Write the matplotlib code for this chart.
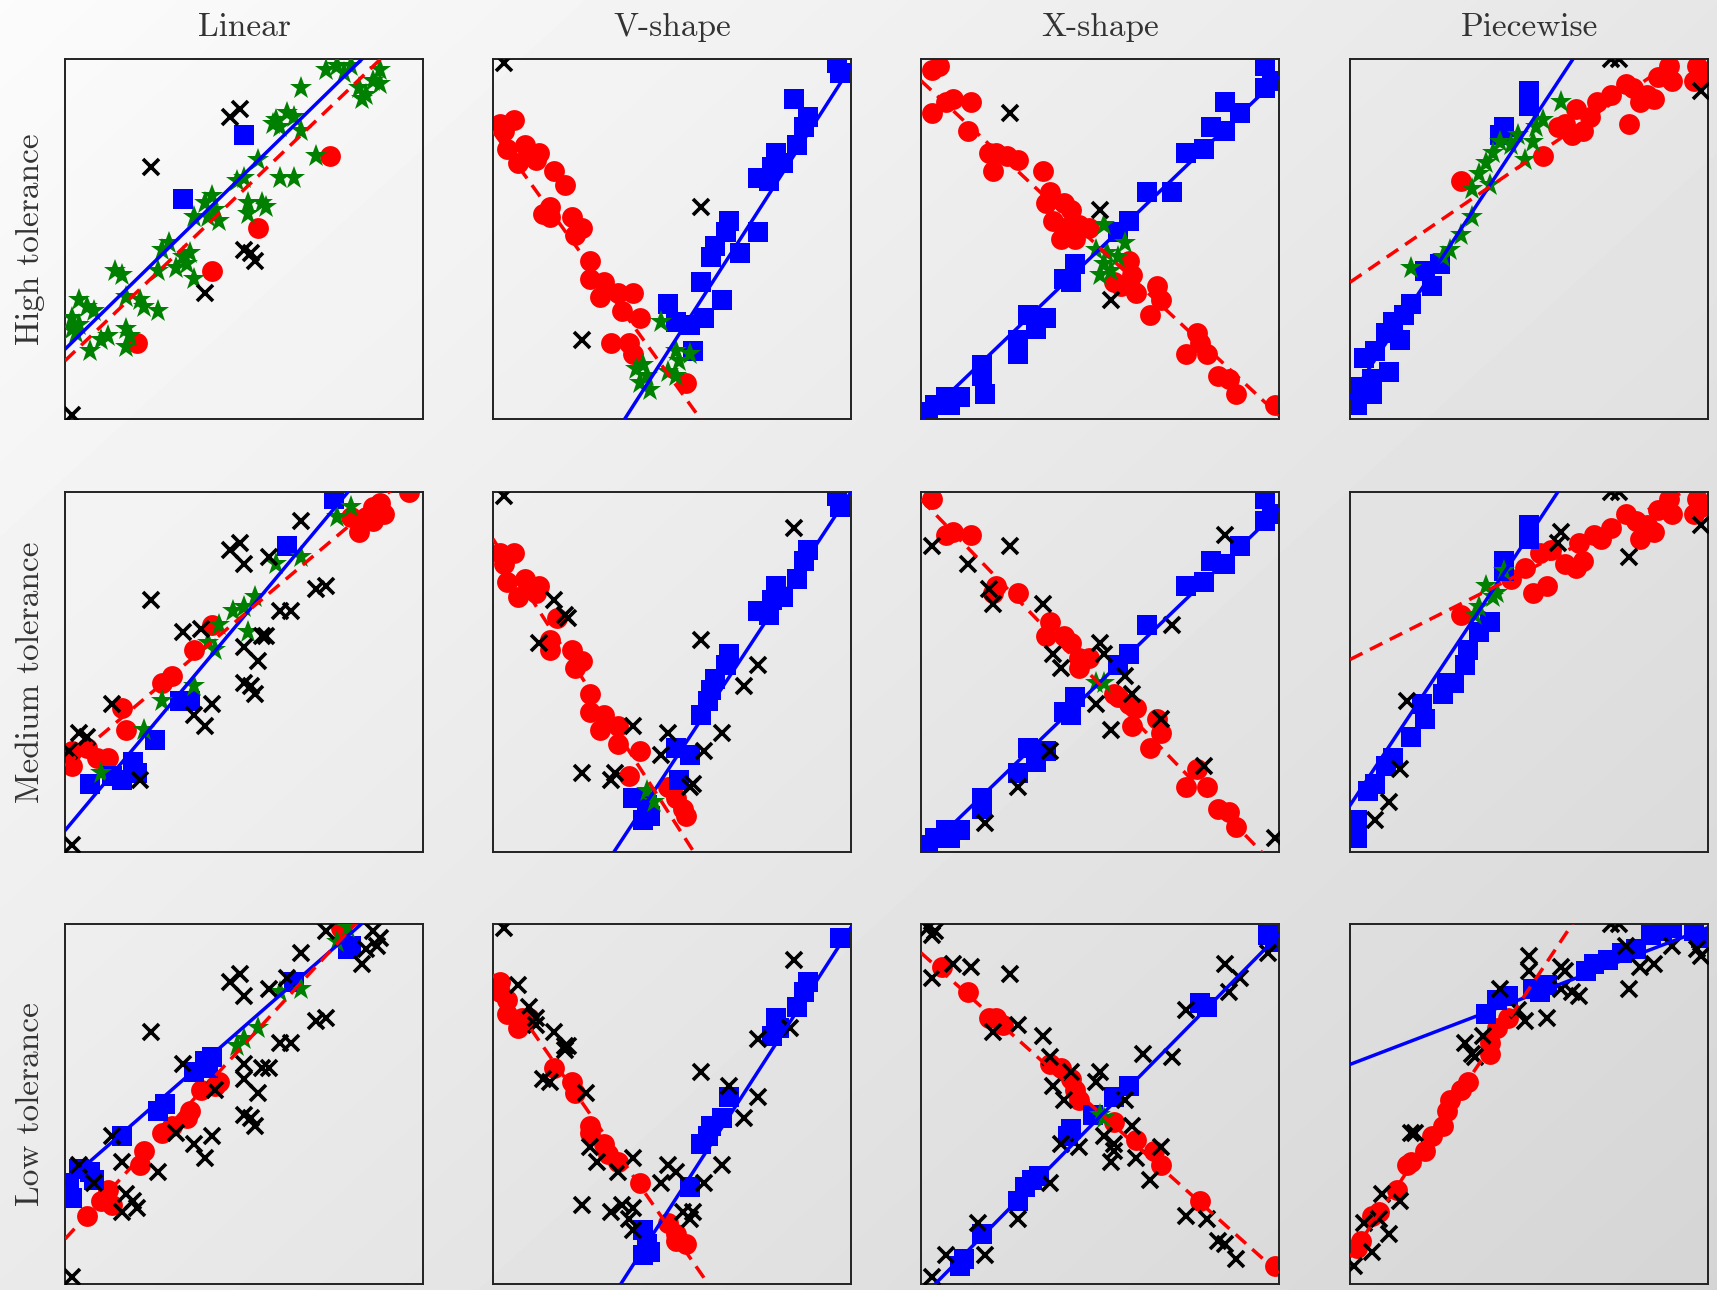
import numpy as np
import matplotlib.pyplot as plt

plt.rcParams['font.family'] = 'cmr10'
plt.rcParams['axes.formatter.use_mathtext'] = True

columns = ["Linear", "V-shape", "X-shape", "Piecewise"]
rows = ["High tolerance", "Medium tolerance", "Low tolerance"]

# Points are (x, y) in the unit square.
# red = first model, blue = second model, both = fits both, none = outlier.
# Fits are (slope, intercept) for the blue solid and red dashed models.

# ---- Linear ----
lin_hi_red = [(0.74, 0.73), (0.54, 0.53), (0.41, 0.41), (0.20, 0.21)]
lin_hi_blue = [(0.50, 0.79), (0.33, 0.61)]
lin_hi_both = [(0.73, 0.97), (0.76, 0.98), (0.78, 0.96), (0.80, 0.98), (0.88, 0.97), (0.86, 0.94),
               (0.88, 0.93), (0.82, 0.92), (0.84, 0.90), (0.83, 0.89), (0.66, 0.92), (0.62, 0.85),
               (0.59, 0.83), (0.64, 0.84), (0.58, 0.82), (0.60, 0.81), (0.66, 0.80), (0.54, 0.72),
               (0.50, 0.67), (0.48, 0.66), (0.60, 0.67), (0.64, 0.67), (0.70, 0.73), (0.51, 0.60),
               (0.55, 0.60), (0.56, 0.59), (0.41, 0.62), (0.39, 0.60), (0.42, 0.58), (0.40, 0.56),
               (0.36, 0.56), (0.43, 0.55), (0.51, 0.57), (0.27, 0.47), (0.29, 0.49), (0.33, 0.45),
               (0.35, 0.46), (0.31, 0.42), (0.34, 0.43), (0.36, 0.39), (0.26, 0.41), (0.14, 0.41),
               (0.16, 0.40), (0.17, 0.34), (0.21, 0.33), (0.22, 0.31), (0.26, 0.30), (0.04, 0.33),
               (0.06, 0.31), (0.08, 0.30), (0.02, 0.28), (0.02, 0.25), (0.04, 0.26), (0.10, 0.22),
               (0.12, 0.23), (0.17, 0.25), (0.18, 0.23), (0.17, 0.20), (0.07, 0.19), (0.03, 0.24)]
lin_hi_none = [(0.24, 0.70), (0.46, 0.84), (0.49, 0.86), (0.50, 0.47), (0.52, 0.46), (0.53, 0.44),
               (0.39, 0.35), (0.02, 0.01)]
lin_hi_fit = [(0.972, 0.194), (0.951, 0.162)]

lin_md_red = [(0.96, 1.00), (0.88, 0.97), (0.89, 0.94), (0.86, 0.96), (0.84, 0.93), (0.80, 0.93),
              (0.82, 0.89), (0.86, 0.92), (0.41, 0.63), (0.36, 0.56), (0.27, 0.47), (0.30, 0.49),
              (0.16, 0.40), (0.17, 0.34), (0.02, 0.28), (0.02, 0.24), (0.06, 0.29), (0.09, 0.26),
              (0.12, 0.26)]
lin_md_blue = [(0.75, 0.98), (0.62, 0.85), (0.32, 0.42), (0.35, 0.42), (0.25, 0.31), (0.19, 0.25),
               (0.20, 0.22), (0.16, 0.20), (0.07, 0.19), (0.13, 0.21)]
lin_md_both = [(0.76, 0.93), (0.80, 0.96), (0.66, 0.82), (0.59, 0.80), (0.53, 0.71), (0.50, 0.68),
               (0.47, 0.67), (0.51, 0.61), (0.43, 0.63), (0.42, 0.56), (0.40, 0.58), (0.36, 0.46),
               (0.27, 0.42), (0.22, 0.34), (0.10, 0.22)]
lin_md_none = [(0.66, 0.92), (0.46, 0.84), (0.49, 0.86), (0.50, 0.80), (0.57, 0.82), (0.24, 0.70),
               (0.70, 0.73), (0.73, 0.74), (0.60, 0.67), (0.63, 0.67), (0.33, 0.61), (0.38, 0.62),
               (0.50, 0.57), (0.55, 0.60), (0.56, 0.60), (0.54, 0.53), (0.50, 0.47), (0.52, 0.46),
               (0.53, 0.44), (0.41, 0.41), (0.36, 0.38), (0.39, 0.35), (0.13, 0.41), (0.04, 0.33),
               (0.06, 0.32), (0.01, 0.28), (0.21, 0.20), (0.02, 0.02)]
lin_md_fit = [(1.19, 0.06), (0.84, 0.24)]

lin_lo_red = [(0.06, 0.19), (0.10, 0.23), (0.12, 0.26), (0.13, 0.22), (0.22, 0.37), (0.21, 0.33),
              (0.27, 0.42), (0.30, 0.44), (0.34, 0.46), (0.35, 0.48), (0.38, 0.54), (0.43, 0.56),
              (0.42, 0.55), (0.77, 0.99)]
lin_lo_blue = [(0.01, 0.28), (0.02, 0.24), (0.04, 0.32), (0.07, 0.31), (0.08, 0.29), (0.16, 0.41),
               (0.26, 0.48), (0.28, 0.50), (0.36, 0.59), (0.39, 0.62), (0.41, 0.63), (0.40, 0.60),
               (0.64, 0.84), (0.79, 0.93), (0.80, 0.94)]
lin_lo_both = [(0.66, 0.82), (0.60, 0.81), (0.54, 0.71), (0.50, 0.68), (0.48, 0.66), (0.76, 0.95),
               (0.79, 0.99)]
lin_lo_none = [(0.66, 0.92), (0.46, 0.84), (0.49, 0.86), (0.50, 0.80), (0.57, 0.82), (0.62, 0.85),
               (0.73, 0.98), (0.86, 0.98), (0.88, 0.96), (0.87, 0.94), (0.84, 0.93), (0.83, 0.89),
               (0.24, 0.70), (0.70, 0.73), (0.73, 0.74), (0.60, 0.67), (0.63, 0.67), (0.33, 0.61),
               (0.50, 0.61), (0.50, 0.57), (0.55, 0.60), (0.57, 0.60), (0.54, 0.53), (0.50, 0.47),
               (0.52, 0.46), (0.53, 0.44), (0.41, 0.41), (0.31, 0.42), (0.36, 0.39), (0.39, 0.35),
               (0.13, 0.41), (0.16, 0.34), (0.26, 0.31), (0.04, 0.33), (0.08, 0.28), (0.17, 0.25),
               (0.19, 0.23), (0.16, 0.20), (0.20, 0.21), (0.02, 0.02), (0.42, 0.54)]
lin_lo_fit = [(0.87, 0.28), (1.08, 0.125)]

# ---- V-shape ----
v_hi_red = [(0.02, 0.82), (0.06, 0.83), (0.03, 0.80), (0.04, 0.75), (0.09, 0.76), (0.10, 0.74),
            (0.13, 0.74), (0.07, 0.71), (0.12, 0.72), (0.17, 0.69), (0.20, 0.65), (0.14, 0.57),
            (0.16, 0.59), (0.16, 0.56), (0.22, 0.56), (0.25, 0.53), (0.23, 0.51), (0.27, 0.44),
            (0.27, 0.39), (0.31, 0.38), (0.30, 0.34), (0.35, 0.35), (0.39, 0.35), (0.36, 0.30),
            (0.41, 0.28), (0.33, 0.21), (0.38, 0.21), (0.39, 0.18), (0.54, 0.10)]
v_hi_blue = [(0.97, 0.96), (0.96, 0.99), (0.84, 0.89), (0.88, 0.84), (0.87, 0.81), (0.85, 0.76),
             (0.79, 0.74), (0.81, 0.71), (0.78, 0.70), (0.74, 0.67), (0.77, 0.66), (0.66, 0.55),
             (0.65, 0.52), (0.74, 0.52), (0.62, 0.48), (0.69, 0.46), (0.61, 0.45), (0.58, 0.38),
             (0.64, 0.33), (0.49, 0.32), (0.51, 0.27), (0.55, 0.26), (0.59, 0.28), (0.56, 0.19)]
v_hi_both = [(0.47, 0.27), (0.40, 0.14), (0.42, 0.15), (0.43, 0.12), (0.44, 0.08), (0.41, 0.10),
             (0.51, 0.19), (0.52, 0.16), (0.49, 0.13), (0.51, 0.12), (0.55, 0.18)]
v_hi_none = [(0.03, 0.99), (0.58, 0.59), (0.25, 0.22)]
v_hi_fit = [(1.549, -0.570), (-1.38, 0.80)]

v_md_red = [(0.02, 0.83), (0.06, 0.83), (0.03, 0.80), (0.04, 0.75), (0.09, 0.76), (0.10, 0.74),
            (0.13, 0.74), (0.07, 0.71), (0.12, 0.72), (0.18, 0.65), (0.16, 0.59), (0.16, 0.56),
            (0.22, 0.56), (0.25, 0.53), (0.23, 0.51), (0.27, 0.44), (0.27, 0.39), (0.31, 0.38),
            (0.30, 0.34), (0.35, 0.35), (0.35, 0.30), (0.41, 0.28), (0.38, 0.21), (0.49, 0.18),
            (0.51, 0.15), (0.53, 0.12), (0.54, 0.10)]
v_md_blue = [(0.97, 0.96), (0.96, 0.99), (0.88, 0.84), (0.87, 0.81), (0.85, 0.76), (0.79, 0.74),
             (0.81, 0.71), (0.78, 0.70), (0.74, 0.67), (0.77, 0.66), (0.66, 0.55), (0.65, 0.52),
             (0.62, 0.48), (0.61, 0.45), (0.58, 0.38), (0.60, 0.42), (0.51, 0.29), (0.55, 0.27),
             (0.52, 0.20), (0.39, 0.15), (0.43, 0.13), (0.42, 0.09), (0.44, 0.10)]
v_md_both = [(0.43, 0.17), (0.45, 0.14)]
v_md_none = [(0.03, 0.99), (0.84, 0.90), (0.17, 0.70), (0.21, 0.65), (0.20, 0.66), (0.13, 0.58),
             (0.58, 0.59), (0.74, 0.52), (0.70, 0.46), (0.39, 0.35), (0.49, 0.33), (0.64, 0.33),
             (0.47, 0.27), (0.59, 0.28), (0.25, 0.22), (0.33, 0.20), (0.34, 0.22), (0.56, 0.19),
             (0.55, 0.18)]
v_md_fit = [(1.51, -0.51), (-1.55, 0.87)]

v_lo_red = [(0.02, 0.84), (0.02, 0.81), (0.04, 0.79), (0.04, 0.75), (0.08, 0.74), (0.07, 0.71),
            (0.10, 0.74), (0.17, 0.60), (0.22, 0.56), (0.23, 0.53), (0.27, 0.44), (0.27, 0.42),
            (0.31, 0.39), (0.32, 0.36), (0.35, 0.34), (0.41, 0.28), (0.49, 0.17), (0.51, 0.14),
            (0.54, 0.11), (0.51, 0.12)]
v_lo_blue = [(0.97, 0.96), (0.88, 0.84), (0.87, 0.81), (0.85, 0.77), (0.79, 0.74), (0.80, 0.71),
             (0.78, 0.69), (0.66, 0.52), (0.64, 0.46), (0.61, 0.44), (0.58, 0.39), (0.60, 0.41),
             (0.55, 0.27), (0.42, 0.15), (0.43, 0.11), (0.42, 0.08), (0.44, 0.09)]
v_lo_both = []
v_lo_none = [(0.03, 0.99), (0.07, 0.83), (0.10, 0.77), (0.12, 0.74), (0.12, 0.72), (0.17, 0.70),
             (0.20, 0.66), (0.21, 0.66), (0.20, 0.65), (0.14, 0.57), (0.16, 0.56), (0.26, 0.53),
             (0.27, 0.38), (0.29, 0.34), (0.35, 0.31), (0.39, 0.35), (0.25, 0.22), (0.33, 0.20),
             (0.36, 0.22), (0.39, 0.21), (0.38, 0.18), (0.39, 0.15), (0.84, 0.90), (0.74, 0.68),
             (0.83, 0.71), (0.58, 0.59), (0.66, 0.55), (0.74, 0.52), (0.70, 0.46), (0.49, 0.33),
             (0.51, 0.31), (0.47, 0.28), (0.64, 0.33), (0.59, 0.28), (0.53, 0.20), (0.56, 0.20),
             (0.55, 0.18)]
v_lo_fit = [(1.54, -0.55), (-1.43, 0.86)]

# ---- X-shape ----
x_hi_red = [(0.03, 0.97), (0.05, 0.98), (0.03, 0.85), (0.07, 0.88), (0.09, 0.89), (0.14, 0.88),
            (0.13, 0.80), (0.19, 0.74), (0.21, 0.74), (0.20, 0.69), (0.24, 0.73), (0.27, 0.72),
            (0.34, 0.69), (0.36, 0.63), (0.35, 0.60), (0.40, 0.60), (0.42, 0.58), (0.37, 0.55),
            (0.40, 0.53), (0.44, 0.54), (0.47, 0.53), (0.39, 0.50), (0.43, 0.50), (0.58, 0.44),
            (0.59, 0.40), (0.54, 0.38), (0.56, 0.37), (0.60, 0.35), (0.66, 0.37), (0.67, 0.33),
            (0.64, 0.29), (0.77, 0.24), (0.78, 0.21), (0.74, 0.18), (0.80, 0.18), (0.83, 0.12),
            (0.86, 0.11), (0.88, 0.07), (0.99, 0.04)]
x_hi_blue = [(0.96, 0.98), (0.98, 0.94), (0.96, 0.92), (0.85, 0.88), (0.89, 0.85), (0.81, 0.81),
             (0.85, 0.80), (0.79, 0.75), (0.74, 0.74), (0.63, 0.63), (0.70, 0.63), (0.58, 0.55),
             (0.55, 0.52), (0.43, 0.43), (0.40, 0.39), (0.42, 0.38), (0.30, 0.29), (0.35, 0.28),
             (0.32, 0.25), (0.27, 0.22), (0.27, 0.18), (0.17, 0.15), (0.17, 0.12), (0.18, 0.07),
             (0.11, 0.06), (0.07, 0.06), (0.04, 0.04), (0.02, 0.02), (0.08, 0.04)]
x_hi_both = [(0.51, 0.54), (0.49, 0.47), (0.52, 0.46), (0.57, 0.49), (0.55, 0.45), (0.51, 0.43),
             (0.50, 0.40), (0.53, 0.41)]
x_hi_none = [(0.25, 0.85), (0.50, 0.58), (0.53, 0.33)]
x_hi_fit = [(0.954, -0.004), (-0.93, 0.94)]

x_md_red = [(0.03, 0.98), (0.07, 0.88), (0.09, 0.89), (0.14, 0.88), (0.21, 0.74), (0.20, 0.72),
            (0.27, 0.72), (0.36, 0.64), (0.35, 0.60), (0.40, 0.60), (0.42, 0.58), (0.44, 0.54),
            (0.47, 0.54), (0.44, 0.51), (0.54, 0.44), (0.55, 0.43), (0.58, 0.41), (0.60, 0.40),
            (0.59, 0.35), (0.66, 0.37), (0.67, 0.33), (0.64, 0.29), (0.77, 0.23), (0.74, 0.18),
            (0.80, 0.18), (0.83, 0.12), (0.86, 0.11), (0.88, 0.07)]
x_md_blue = [(0.96, 0.98), (0.98, 0.94), (0.96, 0.92), (0.89, 0.85), (0.81, 0.81), (0.85, 0.80),
             (0.79, 0.75), (0.74, 0.74), (0.63, 0.63), (0.58, 0.55), (0.55, 0.52), (0.43, 0.43),
             (0.40, 0.39), (0.42, 0.38), (0.30, 0.29), (0.35, 0.28), (0.32, 0.25), (0.27, 0.22),
             (0.17, 0.15), (0.17, 0.12), (0.11, 0.06), (0.07, 0.06), (0.04, 0.04), (0.02, 0.02),
             (0.08, 0.04)]
x_md_both = [(0.49, 0.47), (0.51, 0.47)]
x_md_none = [(0.03, 0.85), (0.25, 0.85), (0.13, 0.80), (0.19, 0.73), (0.20, 0.69), (0.34, 0.69),
             (0.85, 0.88), (0.70, 0.63), (0.50, 0.58), (0.37, 0.55), (0.39, 0.51), (0.51, 0.55),
             (0.57, 0.49), (0.59, 0.44), (0.49, 0.41), (0.53, 0.34), (0.67, 0.37), (0.36, 0.28),
             (0.27, 0.18), (0.18, 0.08), (0.79, 0.24), (0.99, 0.04)]
x_md_fit = [(0.96, -0.008), (-1.03, 0.98)]

x_lo_red = [(0.06, 0.88), (0.13, 0.81), (0.19, 0.74), (0.21, 0.74), (0.23, 0.72), (0.36, 0.61),
            (0.39, 0.60), (0.42, 0.57), (0.43, 0.54), (0.44, 0.51), (0.54, 0.45), (0.60, 0.40),
            (0.65, 0.37), (0.67, 0.33), (0.78, 0.23), (0.99, 0.05)]
x_lo_blue = [(0.97, 0.97), (0.99, 0.95), (0.80, 0.77), (0.78, 0.78), (0.58, 0.55), (0.54, 0.52),
             (0.48, 0.47), (0.42, 0.43), (0.41, 0.41), (0.31, 0.29), (0.33, 0.30), (0.29, 0.27),
             (0.27, 0.23), (0.17, 0.14), (0.12, 0.07), (0.11, 0.05)]
x_lo_both = [(0.50, 0.47), (0.51, 0.46)]
x_lo_none = [(0.02, 0.99), (0.04, 0.98), (0.03, 0.97), (0.09, 0.89), (0.14, 0.88), (0.03, 0.85),
             (0.25, 0.86), (0.20, 0.70), (0.27, 0.72), (0.34, 0.69), (0.36, 0.63), (0.42, 0.59),
             (0.37, 0.55), (0.40, 0.51), (0.50, 0.59), (0.49, 0.56), (0.57, 0.51), (0.59, 0.44),
             (0.51, 0.41), (0.54, 0.39), (0.53, 0.34), (0.54, 0.37), (0.60, 0.35), (0.67, 0.38),
             (0.64, 0.29), (0.39, 0.39), (0.44, 0.38), (0.62, 0.64), (0.70, 0.63), (0.74, 0.76),
             (0.86, 0.81), (0.89, 0.85), (0.85, 0.89), (0.97, 0.92), (0.36, 0.28), (0.27, 0.18),
             (0.16, 0.17), (0.18, 0.08), (0.07, 0.08), (0.03, 0.02), (0.74, 0.19), (0.80, 0.18),
             (0.83, 0.12), (0.85, 0.11), (0.88, 0.07)]
x_lo_fit = [(1.01, -0.04), (-0.89, 0.92)]

# ---- Piecewise ----
pw_hi_red = [(0.31, 0.66), (0.54, 0.73), (0.58, 0.81), (0.62, 0.79), (0.65, 0.80), (0.63, 0.86),
             (0.67, 0.84), (0.69, 0.88), (0.73, 0.90), (0.77, 0.93), (0.79, 0.92), (0.81, 0.88),
             (0.78, 0.82), (0.83, 0.90), (0.85, 0.89), (0.86, 0.95), (0.90, 0.94), (0.89, 0.98),
             (0.96, 0.94), (0.97, 0.98), (0.98, 0.95), (0.60, 0.82)]
pw_hi_blue = [(0.50, 0.91), (0.50, 0.87), (0.43, 0.81), (0.42, 0.79), (0.25, 0.43), (0.21, 0.41),
              (0.23, 0.37), (0.17, 0.32), (0.15, 0.29), (0.12, 0.27), (0.10, 0.24), (0.14, 0.22),
              (0.07, 0.19), (0.04, 0.17), (0.11, 0.13), (0.06, 0.11), (0.02, 0.09), (0.06, 0.07),
              (0.02, 0.04)]
pw_hi_both = [(0.59, 0.88), (0.54, 0.83), (0.52, 0.81), (0.47, 0.79), (0.45, 0.76), (0.49, 0.72),
              (0.40, 0.74), (0.38, 0.71), (0.36, 0.68), (0.34, 0.64), (0.39, 0.65), (0.34, 0.56),
              (0.31, 0.51), (0.28, 0.47), (0.26, 0.45), (0.17, 0.42), (0.42, 0.77), (0.51, 0.77)]
pw_hi_none = [(0.98, 0.91), (0.73, 1.00), (0.75, 1.00)]
pw_hi_fit = [(1.51, 0.06), (0.68, 0.38)]

pw_md_red = [(0.31, 0.66), (0.51, 0.72), (0.55, 0.74), (0.49, 0.79), (0.53, 0.83), (0.56, 0.84),
             (0.60, 0.80), (0.63, 0.79), (0.65, 0.81), (0.64, 0.86), (0.68, 0.88), (0.70, 0.87),
             (0.73, 0.90), (0.77, 0.94), (0.80, 0.92), (0.81, 0.87), (0.83, 0.91), (0.85, 0.89),
             (0.86, 0.95), (0.90, 0.94), (0.89, 0.98), (0.96, 0.94), (0.97, 0.98), (0.98, 0.96),
             (0.45, 0.76)]
pw_md_blue = [(0.50, 0.91), (0.50, 0.87), (0.43, 0.81), (0.43, 0.78), (0.39, 0.64), (0.36, 0.61),
              (0.33, 0.56), (0.32, 0.52), (0.29, 0.47), (0.27, 0.47), (0.26, 0.44), (0.20, 0.41),
              (0.21, 0.37), (0.17, 0.32), (0.12, 0.26), (0.10, 0.24), (0.07, 0.19), (0.05, 0.17),
              (0.02, 0.09), (0.02, 0.04)]
pw_md_both = [(0.38, 0.74), (0.41, 0.72), (0.36, 0.68), (0.40, 0.71), (0.35, 0.66), (0.43, 0.78)]
pw_md_none = [(0.59, 0.89), (0.58, 0.86), (0.78, 0.82), (0.98, 0.91), (0.73, 1.00), (0.75, 1.00),
              (0.16, 0.42), (0.14, 0.23), (0.11, 0.14), (0.07, 0.09)]
pw_md_fit = [(1.5, 0.13), (0.50, 0.535)]

pw_lo_red = [(0.02, 0.10), (0.03, 0.12), (0.06, 0.19), (0.08, 0.20), (0.13, 0.26), (0.16, 0.33),
             (0.17, 0.34), (0.21, 0.37), (0.23, 0.41), (0.26, 0.44), (0.27, 0.48), (0.28, 0.51),
             (0.31, 0.54), (0.33, 0.56), (0.39, 0.64), (0.39, 0.67), (0.41, 0.71), (0.44, 0.74)]
pw_lo_blue = [(0.38, 0.75), (0.41, 0.79), (0.44, 0.80), (0.51, 0.82), (0.55, 0.83), (0.53, 0.81),
              (0.66, 0.87), (0.68, 0.89), (0.72, 0.90), (0.76, 0.92), (0.80, 0.93), (0.84, 0.97),
              (0.87, 0.98), (0.90, 0.99), (0.96, 0.98), (0.98, 0.96)]
pw_lo_both = []
pw_lo_none = [(0.01, 0.05), (0.06, 0.09), (0.11, 0.14), (0.08, 0.18), (0.04, 0.17), (0.09, 0.25),
              (0.14, 0.23), (0.18, 0.42), (0.17, 0.42), (0.32, 0.67), (0.34, 0.64), (0.35, 0.63),
              (0.37, 0.69), (0.42, 0.82), (0.50, 0.91), (0.50, 0.87), (0.49, 0.73), (0.47, 0.76),
              (0.55, 0.74), (0.59, 0.88), (0.60, 0.87), (0.62, 0.81), (0.64, 0.80), (0.59, 0.82),
              (0.77, 0.94), (0.81, 0.88), (0.78, 0.82), (0.85, 0.89), (0.90, 0.94), (0.98, 0.91),
              (0.97, 0.93), (0.73, 1.00), (0.75, 1.00)]
pw_lo_fit = [(0.38, 0.61), (1.49, 0.075)]

panels = [
    [(lin_hi_red, lin_hi_blue, lin_hi_both, lin_hi_none, lin_hi_fit),
     (v_hi_red, v_hi_blue, v_hi_both, v_hi_none, v_hi_fit),
     (x_hi_red, x_hi_blue, x_hi_both, x_hi_none, x_hi_fit),
     (pw_hi_red, pw_hi_blue, pw_hi_both, pw_hi_none, pw_hi_fit)],
    [(lin_md_red, lin_md_blue, lin_md_both, lin_md_none, lin_md_fit),
     (v_md_red, v_md_blue, v_md_both, v_md_none, v_md_fit),
     (x_md_red, x_md_blue, x_md_both, x_md_none, x_md_fit),
     (pw_md_red, pw_md_blue, pw_md_both, pw_md_none, pw_md_fit)],
    [(lin_lo_red, lin_lo_blue, lin_lo_both, lin_lo_none, lin_lo_fit),
     (v_lo_red, v_lo_blue, v_lo_both, v_lo_none, v_lo_fit),
     (x_lo_red, x_lo_blue, x_lo_both, x_lo_none, x_lo_fit),
     (pw_lo_red, pw_lo_blue, pw_lo_both, pw_lo_none, pw_lo_fit)],
]

fig = plt.figure(figsize=(17.17, 12.9), dpi=100)

# soft grey gradient behind everything
bg = fig.add_axes([0, 0, 1, 1], zorder=-10)
gx, gy = np.meshgrid(np.linspace(0, 1, 400), np.linspace(0, 1, 400))
shade = 0.985 - 0.15 * (0.55 * gx + 0.45 * gy)
bg.imshow(shade, cmap='gray', vmin=0, vmax=1, extent=(0, 1, 0, 1),
          origin='upper', aspect='auto', interpolation='bilinear')
bg.axis('off')

lefts = [0.0379, 0.2871, 0.5364, 0.7863]
bottoms = [0.6752, 0.3395, 0.0047]
w, h = 0.2085, 0.279


def pts(p):
    a = np.array(p, dtype=float).reshape(-1, 2)
    return a[:, 0], a[:, 1]


xs = np.linspace(0, 1, 50)
for i, row in enumerate(panels):
    for j, (red, blue, both, none, fit) in enumerate(row):
        ax = fig.add_axes([lefts[j], bottoms[i], w, h])
        ax.set_facecolor('none')

        ax.plot(*pts(red), 'o', color='red', ms=15, mew=0, zorder=2)
        ax.plot(*pts(blue), 's', color='blue', ms=14, mew=0, zorder=2)
        ax.plot(*pts(both), '*', color='green', ms=17, mew=0, zorder=3)
        ax.plot(*pts(none), 'x', color='black', ms=11.5, mew=2.6, zorder=4)

        (sb, ib), (sr, ir) = fit
        ax.plot(xs, sb * xs + ib, '-', color='blue', lw=2.5, zorder=5)
        ax.plot(xs, sr * xs + ir, '--', color='red', lw=2.5, dashes=(4, 2.4), zorder=5)

        ax.set_xlim(0, 1)
        ax.set_ylim(0, 1)
        ax.set_xticks([])
        ax.set_yticks([])
        for s in ax.spines.values():
            s.set_color('#222222')
            s.set_linewidth(1.4)

        if i == 0:
            fig.text(lefts[j] + w / 2, 0.979, columns[j], ha='center', va='center',
                     fontsize=24, color='#333333')
    fig.text(0.018, bottoms[i] + h / 2, rows[i], ha='center', va='center',
             rotation=90, fontsize=24, color='#333333')

fig.savefig('out.png', dpi=100)
